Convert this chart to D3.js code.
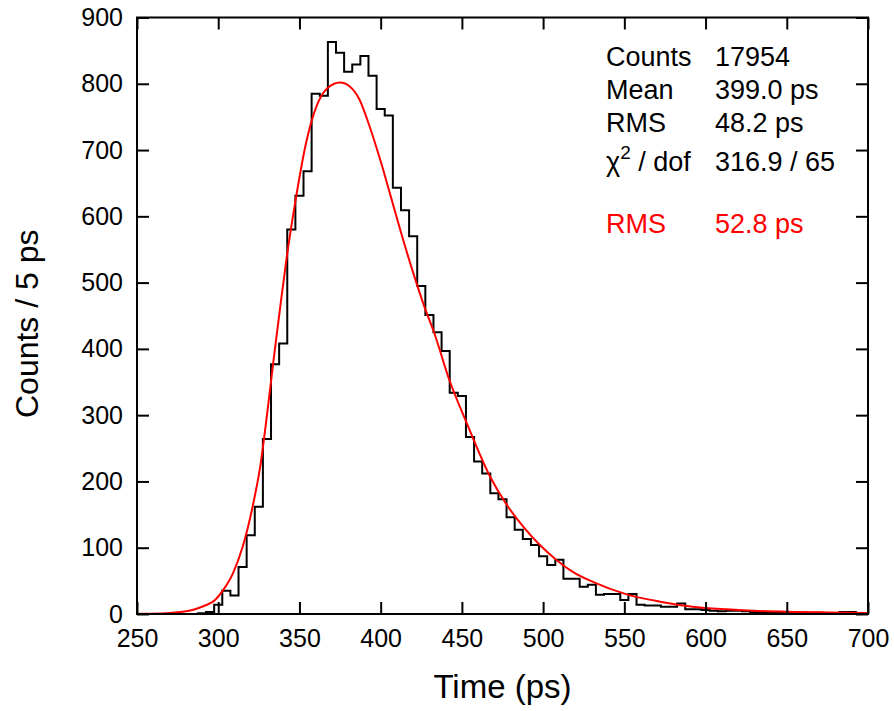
<!DOCTYPE html>
<html>
<head>
<meta charset="utf-8">
<script src="https://cdn.jsdelivr.net/npm/d3@7"></script>
<style>
  body { margin: 0; background: #fff; }
  svg text { font-family: "Liberation Sans", Arial, sans-serif; fill: #000; }
</style>
</head>
<body>
<svg id="chart" width="894" height="711"></svg>
<script>
// histogram bins (5 ps wide, centre values) and counts
const binCenters = [250, 255, 260, 265, 270, 275, 280, 285, 290, 295,
  300, 305, 310, 315, 320, 325, 330, 335, 340, 345,
  350, 355, 360, 365, 370, 375, 380, 385, 390, 395,
  400, 405, 410, 415, 420, 425, 430, 435, 440, 445,
  450, 455, 460, 465, 470, 475, 480, 485, 490, 495,
  500, 505, 510, 515, 520, 525, 530, 535, 540, 545,
  550, 555, 560, 565, 570, 575, 580, 585, 590, 595,
  600, 605, 610, 615, 620, 625, 630, 635, 640, 645,
  650, 655, 660, 665, 670, 675, 680, 685, 690, 695, 700];
const binCounts = [0, 0, 0, 0, 0, 0, 0, 0, 1, 3,
  14, 35, 28, 71, 119, 162, 264, 377, 408, 580,
  631, 668, 785, 782, 863, 847, 818, 829, 842, 812,
  762, 752, 643, 609, 570, 495, 451, 425, 397, 334,
  329, 267, 230, 212, 182, 173, 146, 127, 113, 104,
  87, 74, 82, 53, 53, 41, 44, 29, 30, 30,
  21, 30, 14, 13, 13, 11, 11, 16, 7, 7,
  6, 5, 4, 5, 5, 4, 3, 3, 2, 3,
  2, 1, 2, 1, 2, 1, 1, 3, 3, 1, 1];

// fit curve
const fitTime = [250, 265, 275, 282, 288, 293, 297, 303, 309, 315, 321, 326, 330, 334, 338, 342,
  348, 354, 360, 367, 375, 381, 387, 393, 400, 406, 412, 420, 427, 433, 442, 453,
  467, 477, 488, 498, 508, 518, 531, 551, 572, 592, 613, 633, 654, 675, 700];
const fitCounts = [0.2, 0.8, 2.5, 5, 9, 14, 19, 36, 61, 101, 160, 225, 300, 382, 460, 535,
  630, 710, 763, 793, 802, 796, 776, 737, 683, 632, 580, 515, 463, 424, 355, 288,
  209, 167, 131, 104, 82, 64, 48, 30, 18.6, 11, 7, 4.5, 3.2, 2.4, 1.6];

const xTicks = [250, 300, 350, 400, 450, 500, 550, 600, 650, 700];
const yTicks = [0, 100, 200, 300, 400, 500, 600, 700, 800, 900];

const statLabels = ["Counts", "Mean", "RMS"];
const statValues = ["17954", "399.0 ps", "48.2 ps"];
const chi2Value = "316.9 / 65";
const fitRmsValue = "52.8 ps";

const margin = {top: 17.5, right: 26, bottom: 97, left: 137};
const width = 894 - margin.left - margin.right;
const height = 711 - margin.top - margin.bottom;

const svg = d3.select("#chart");
const g = svg.append("g")
  .attr("transform", "translate(" + margin.left + "," + margin.top + ")");

const x = d3.scaleLinear().domain([250, 700]).range([0, width]);
const y = d3.scaleLinear().domain([0, 900]).range([height, 0]);

g.append("clipPath").attr("id", "clip")
  .append("rect").attr("width", width).attr("height", height);

// histogram as a step line
const edges = binCenters.map((c, i) => ({t: c - 2.5, v: binCounts[i]}));
edges.push({t: binCenters[binCenters.length - 1] + 2.5, v: binCounts[binCounts.length - 1]});

const stepLine = d3.line()
  .x(d => x(d.t))
  .y(d => y(d.v))
  .curve(d3.curveStepAfter);

g.append("path")
  .datum(edges)
  .attr("clip-path", "url(#clip)")
  .attr("fill", "none")
  .attr("stroke", "#000")
  .attr("stroke-width", 2)
  .attr("d", stepLine);

// fit curve
const fitLine = d3.line()
  .x((d, i) => x(fitTime[i]))
  .y(d => y(d))
  .curve(d3.curveMonotoneX);

g.append("path")
  .datum(fitCounts)
  .attr("clip-path", "url(#clip)")
  .attr("fill", "none")
  .attr("stroke", "#ff0000")
  .attr("stroke-width", 2)
  .attr("d", fitLine);

// axes, ticks pointing inwards on all four sides
const fontSize = 25;
const xAxis = d3.axisBottom(x).tickValues(xTicks).tickSizeInner(-12).tickSizeOuter(0).tickPadding(15);
const yAxis = d3.axisLeft(y).tickValues(yTicks).tickSizeInner(-12).tickSizeOuter(0).tickPadding(14);

g.append("g").attr("transform", "translate(0," + height + ")").call(xAxis);
g.append("g").call(yAxis);
g.append("g").call(d3.axisTop(x).tickValues(xTicks).tickSizeInner(-12).tickSizeOuter(0).tickFormat(""));
g.append("g").attr("transform", "translate(" + width + ",0)")
  .call(d3.axisRight(y).tickValues(yTicks).tickSizeInner(-12).tickSizeOuter(0).tickFormat(""));

g.selectAll(".domain").remove();
g.selectAll(".tick line").attr("stroke", "#000").attr("stroke-width", 2);
g.selectAll(".tick text")
  .style("font-size", fontSize + "px")
  .style("font-family", "'Liberation Sans', Arial, sans-serif");

g.append("rect")
  .attr("width", width).attr("height", height)
  .attr("fill", "none").attr("stroke", "#000").attr("stroke-width", 2);

// axis titles
g.append("text")
  .attr("x", width / 2).attr("y", height + 84)
  .attr("text-anchor", "middle")
  .style("font-size", "33px")
  .text("Time (ps)");

g.append("text")
  .attr("transform", "translate(" + (38 - margin.left) + "," + (height / 2 + 8) + ") rotate(-90)")
  .attr("text-anchor", "middle")
  .style("font-size", "32px")
  .text("Counts / 5 ps");

// statistics box
const statX1 = 606, statX2 = 715;
const stats = svg.append("g").style("font-size", "27px");
statLabels.forEach((lab, i) => {
  const by = 66 + i * 33;
  stats.append("text").attr("x", statX1).attr("y", by).text(lab);
  stats.append("text").attr("x", statX2).attr("y", by).text(statValues[i]);
});
const chi = stats.append("text").attr("x", statX1).attr("y", 171);
chi.append("tspan").text("\u03c7");
chi.append("tspan").attr("dy", -12).style("font-size", "19px").text("2");
chi.append("tspan").attr("dy", 12).text(" / dof");
stats.append("text").attr("x", statX2).attr("y", 171).text(chi2Value);

stats.append("text").attr("x", statX1).attr("y", 233).style("fill", "#ff0000").text("RMS");
stats.append("text").attr("x", statX2).attr("y", 233).style("fill", "#ff0000").text(fitRmsValue);
</script>
</body>
</html>
